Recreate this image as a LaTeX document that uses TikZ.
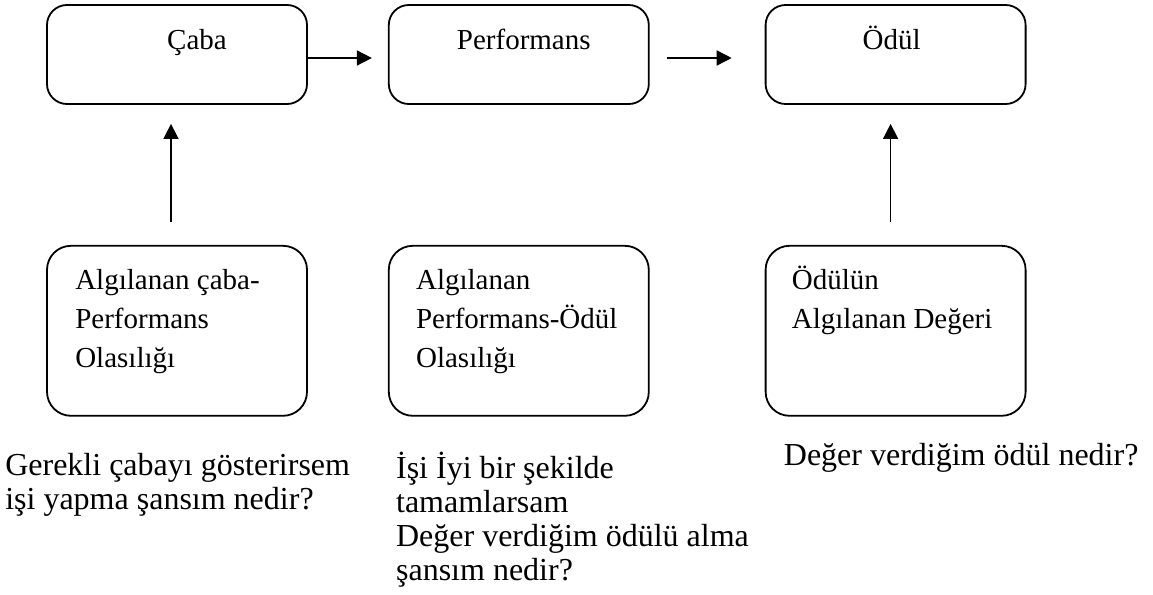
\documentclass[tikz,border=0pt]{standalone}
\usepackage{fontspec}
\setmainfont{Liberation Serif}
\usetikzlibrary{positioning, arrows.meta}

\newcommand\boxfont{\fontsize{29}{39}\selectfont}
\newcommand\notefont{\fontsize{32}{34}\selectfont}

\begin{document}
\begin{tikzpicture}[
  x=1pt, y=-1pt,
  % Stage boxes (top row) and expectancy boxes (bottom row)
  stage/.style={draw, line width=1.8pt, rounded corners=20pt, minimum width=260pt, minimum height=99pt, inner sep=0pt},
  expect/.style={stage, rounded corners=24pt, minimum height=170pt},
  % Texts
  title/.style={inner sep=0pt, anchor=base, font=\boxfont},
  inbox/.style={inner sep=0pt, anchor=north west, align=left, font=\boxfont},
  question/.style={inner sep=0pt, anchor=north west, align=left, font=\notefont},
  link/.style={-{Triangle[length=15pt, width=15pt]}, line width=1.6pt}
  ]

  \useasboundingbox (0,0) rectangle (1153,594);

  % --- Stages ---
  \node[stage] (Effort) at (177,54.5) {};
  \node[stage, right=80pt of Effort] (Perf) {};
  \node[stage, right=115pt of Perf] (Reward) {};

  \node[title] (tEffort) at ([xshift=20pt, yshift=5.5pt]Effort.center) {Çaba};
  \node[title] (tPerf) at ([xshift=5pt, yshift=5.5pt]Perf.center) {Performans};
  \node[title] (tReward) at ([xshift=-4pt, yshift=5.5pt]Reward.center) {Ödül};

  % --- Expectancies ---
  \node[expect, below=140pt of Effort] (EP) {};
  \node[expect, below=140pt of Perf] (PO) {};
  \node[expect, below=140pt of Reward] (Val) {};

  \node[inbox] (tEP) at ([xshift=29pt, yshift=-17.5pt]EP.north west)
    {\strut Algılanan çaba-\\Performans\\Olasılığı};
  \node[inbox] (tPO) at ([xshift=28pt, yshift=-17.5pt]PO.north west)
    {\strut Algılanan\\Performans-Ödül\\Olasılığı};
  \node[inbox] (tVal) at ([xshift=27pt, yshift=-17.5pt]Val.north west)
    {\strut Ödülün\\Algılanan Değeri};

  % --- Questions ---
  \node[question] (qEP) at ([xshift=-41pt, yshift=-35pt]EP.south west)
    {\strut Gerekli çabayı gösterirsem\\işi yapma şansım nedir?};
  \node[question] (qPO) at ([xshift=8pt, yshift=-35pt]PO.south west)
    {\strut İşi İyi bir şekilde\\tamamlarsam\\Değer verdiğim ödülü alma\\şansım nedir?};
  \node[question] (qVal) at ([xshift=19pt, yshift=-25pt]Val.south west)
    {\strut Değer verdiğim ödül nedir?};

  % --- Links ---
  \draw[link] ([yshift=-3.5pt]Effort.east) -- ([xshift=-16pt, yshift=-3.5pt]Perf.west);
  \draw[link] ([xshift=17pt, yshift=-3.5pt]Perf.east) -- ([xshift=-33pt, yshift=-3.5pt]Reward.west);
  \draw[link] ([xshift=-6pt, yshift=23pt]EP.north) -- ([xshift=-6pt, yshift=-19pt]Effort.south);
  \draw[link] ([xshift=-5pt, yshift=23pt]Val.north) -- ([xshift=-5pt, yshift=-19pt]Reward.south);

\end{tikzpicture}
\end{document}
